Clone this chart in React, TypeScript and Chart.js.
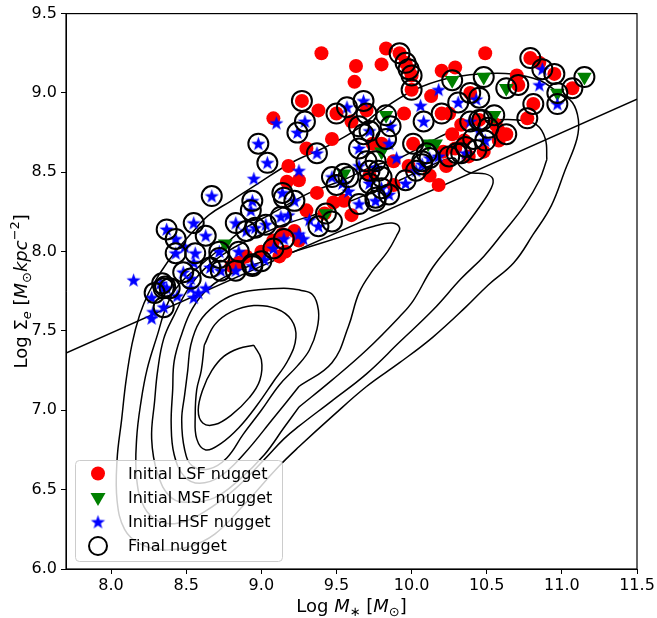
import React, { useEffect, useRef } from "react";
import { Chart, registerables } from "chart.js";

Chart.register(...registerables);

// ---------- data ----------
const xTicks = [8.0, 8.5, 9.0, 9.5, 10.0, 10.5, 11.0, 11.5];
const yTicks = [6.0, 6.5, 7.0, 7.5, 8.0, 8.5, 9.0, 9.5];
const legendLabels = ["Initial LSF nugget", "Initial MSF nugget", "Initial HSF nugget", "Final nugget"];
const xTitleParts: [string, string][] = [["Log ", "n"], ["M", "i"], ["\u2217", "sub"], [" [", "n"], ["M", "i"], ["\u2299", "sub"], ["]", "n"]];
const yTitleParts: [string, string][] = [["Log \u03a3", "n"], ["e", "subi"], [" [", "n"], ["M", "i"], ["\u2299", "sub"], ["kpc", "i"], ["\u22122", "sup"], ["]", "n"]];

const dividingLine = [[7.7, 7.36], [11.5, 8.96]];

const contour1 = [[10.98,9.00],[10.85,9.08],[10.67,9.12],[10.45,9.12],[10.23,9.09],[10.02,9.02],[9.78,8.88],[9.65,8.78],[9.45,8.67],[9.20,8.56],[8.98,8.43],[8.80,8.32],[8.65,8.23],[8.54,8.12],[8.42,7.99],[8.33,7.87],[8.25,7.74],[8.19,7.60],[8.14,7.42],[8.10,7.19],[8.07,6.94],[8.04,6.69],[8.04,6.43],[8.09,6.25],[8.19,6.16],[8.35,6.12],[8.52,6.14],[8.69,6.22],[8.88,6.40],[9.12,6.65],[9.25,6.77],[9.47,6.96],[9.70,7.15],[9.92,7.30],[10.14,7.46],[10.36,7.65],[10.51,7.79],[10.68,7.93],[10.81,8.11],[10.93,8.29],[11.02,8.51],[11.10,8.71],[11.11,8.83],[11.07,8.94],[10.98,9.00]];
const contour2 = [[10.90,8.58],[10.89,8.71],[10.83,8.80],[10.71,8.83],[10.55,8.83],[10.40,8.81],[10.18,8.72],[9.92,8.59],[9.75,8.54],[9.54,8.45],[9.32,8.37],[9.07,8.24],[8.88,8.14],[8.74,8.03],[8.59,7.91],[8.45,7.79],[8.37,7.66],[8.31,7.48],[8.24,7.26],[8.20,7.06],[8.17,6.82],[8.17,6.57],[8.22,6.39],[8.32,6.30],[8.45,6.29],[8.62,6.36],[8.82,6.50],[9.02,6.69],[9.15,6.82],[9.25,6.90],[9.47,7.06],[9.70,7.23],[9.92,7.43],[10.14,7.63],[10.33,7.83],[10.48,7.97],[10.61,8.12],[10.75,8.29],[10.85,8.45],[10.90,8.58]];
const contour3 = [[9.25,7.02],[9.47,7.19],[9.70,7.38],[9.92,7.59],[10.01,7.69],[10.14,7.90],[10.30,8.09],[10.45,8.28],[10.53,8.40],[10.54,8.46],[10.49,8.49],[10.38,8.50],[10.32,8.54],[10.28,8.59],[10.12,8.54],[9.92,8.45],[9.65,8.34],[9.38,8.24],[9.18,8.18],[8.98,8.10],[8.79,8.01],[8.62,7.89],[8.51,7.76],[8.42,7.60],[8.35,7.45],[8.31,7.25],[8.29,7.06],[8.27,6.82],[8.31,6.60],[8.40,6.45],[8.53,6.42],[8.69,6.45],[8.85,6.56],[9.02,6.72],[9.15,6.89],[9.25,7.02]];
const contour4 = [[9.25,7.15],[9.47,7.30],[9.58,7.53],[9.65,7.74],[9.74,7.88],[9.84,8.00],[9.90,8.10],[9.92,8.15],[9.87,8.18],[9.75,8.16],[9.52,8.09],[9.25,8.01],[9.02,7.94],[8.82,7.87],[8.65,7.77],[8.54,7.64],[8.47,7.48],[8.42,7.31],[8.41,7.13],[8.40,6.91],[8.42,6.72],[8.49,6.58],[8.59,6.54],[8.72,6.58],[8.88,6.72],[9.08,6.95],[9.25,7.15]];
const contour5 = [[9.25,7.76],[9.34,7.73],[9.38,7.63],[9.37,7.51],[9.32,7.38],[9.24,7.28],[9.12,7.16],[9.00,7.00],[8.88,6.85],[8.77,6.70],[8.65,6.63],[8.54,6.65],[8.49,6.75],[8.47,6.94],[8.49,7.10],[8.51,7.25],[8.53,7.41],[8.59,7.56],[8.69,7.66],[8.82,7.73],[8.98,7.76],[9.15,7.77],[9.25,7.76]];
const contour6 = [[8.62,7.41],[8.69,7.54],[8.80,7.62],[8.95,7.66],[9.10,7.64],[9.20,7.57],[9.23,7.46],[9.18,7.32],[9.08,7.18],[8.97,7.03],[8.85,6.89],[8.73,6.79],[8.63,6.75],[8.57,6.82],[8.56,6.97],[8.57,7.13],[8.60,7.25],[8.62,7.41]];
const contour7 = [[8.95,7.41],[9.00,7.32],[8.99,7.19],[8.92,7.08],[8.80,6.97],[8.69,6.91],[8.61,6.92],[8.58,7.00],[8.61,7.13],[8.67,7.25],[8.75,7.34],[8.85,7.39],[8.95,7.41]];

const lsfPoints = [[9.40,9.25],[9.83,9.28],[9.80,9.18],[9.63,9.17],[9.62,9.07],[9.92,9.25],[9.96,9.19],[9.98,9.15],[10.00,9.11],[10.00,9.02],[10.20,9.14],[10.29,9.16],[10.49,9.25],[10.79,9.22],[10.85,9.19],[10.95,9.12],[11.07,9.03],[10.70,9.11],[10.71,9.05],[10.81,8.93],[10.77,8.84],[10.13,8.98],[10.39,9.00],[9.95,8.87],[10.20,8.87],[10.45,8.83],[10.63,8.74],[10.01,8.68],[10.25,8.87],[10.27,8.74],[10.29,8.65],[10.33,8.80],[9.27,8.95],[9.38,8.89],[9.50,8.87],[9.60,8.82],[9.70,8.89],[9.47,8.71],[9.30,8.65],[9.74,8.68],[9.08,8.84],[9.18,8.54],[9.25,8.45],[9.17,8.44],[9.37,8.37],[9.48,8.31],[9.55,8.32],[9.30,8.26],[9.16,8.00],[9.80,8.68],[9.88,8.57],[9.42,8.24],[8.90,7.97],[9.00,8.00],[9.08,8.07],[9.22,8.13],[8.85,7.93],[8.80,7.91],[9.12,7.97],[9.25,8.07],[9.60,8.23],[9.72,8.48],[9.88,8.42],[9.98,8.54],[10.12,8.48],[10.23,8.54],[10.18,8.42],[10.35,8.70],[10.38,8.60],[10.21,8.63],[10.48,8.63],[10.58,8.70],[10.56,8.80],[10.58,8.76],[9.14,8.11],[9.07,8.04]];
const msfPoints = [[11.15,9.10],[10.97,9.00],[10.63,9.03],[10.48,9.10],[10.27,9.08],[10.55,8.86],[9.83,8.86],[10.11,8.68],[10.16,8.68],[9.55,8.49],[9.43,8.24],[8.76,8.05],[9.80,8.63]];
const hsfPoints = [[8.67,8.35],[8.37,8.14],[8.55,8.18],[8.43,8.08],[8.63,8.10],[8.43,7.99],[8.56,7.99],[8.55,7.93],[8.72,8.00],[8.83,8.18],[8.94,8.32],[8.93,8.26],[8.90,8.13],[8.96,8.15],[9.03,8.17],[8.48,7.87],[8.53,7.83],[8.53,7.77],[8.35,7.77],[8.66,7.90],[8.73,7.88],[8.83,7.88],[8.94,7.91],[9.08,8.02],[9.13,8.22],[9.22,8.32],[9.25,8.11],[9.28,8.08],[8.15,7.82],[8.35,7.65],[8.28,7.62],[8.27,7.58],[8.58,7.74],[8.63,7.77],[8.44,7.72],[8.49,8.03],[8.98,8.68],[9.04,8.56],[8.95,8.46],[9.10,8.81],[9.24,8.75],[9.29,8.82],[9.57,8.91],[9.37,8.62],[9.25,8.51],[9.14,8.37],[9.18,8.23],[8.85,8.00],[9.02,7.95],[9.15,8.08],[9.38,8.16],[9.68,8.95],[9.72,8.76],[9.65,8.65],[9.86,8.79],[9.85,8.68],[10.06,8.92],[10.08,8.82],[10.18,9.02],[10.31,8.94],[10.43,8.96],[10.39,8.82],[10.87,9.15],[10.85,9.05],[10.97,8.93],[9.47,8.47],[9.54,8.43],[9.65,8.30],[9.76,8.32],[9.85,8.36],[9.76,8.53],[9.90,8.59],[9.96,8.43],[10.03,8.51],[9.32,8.20],[10.12,8.59],[10.49,8.70],[10.36,8.62],[10.45,8.76],[10.07,8.55],[10.18,8.60],[9.58,8.38],[9.80,8.40],[9.72,8.43],[9.65,8.54],[8.27,7.71],[8.55,7.71],[8.33,7.80],[8.37,7.77]];
const finalPoints = [[9.92,9.25],[9.96,9.19],[9.98,9.15],[10.00,9.11],[10.00,9.02],[10.79,9.22],[10.95,9.12],[11.07,9.03],[10.71,9.05],[10.81,8.93],[10.77,8.84],[10.39,9.00],[10.20,8.87],[10.45,8.83],[10.63,8.74],[10.01,8.68],[9.27,8.95],[9.50,8.87],
[11.15,9.10],[10.97,9.00],[10.63,9.03],[10.48,9.10],[10.27,9.08],[10.55,8.86],[9.83,8.86],[9.55,8.49],[9.43,8.24],
[8.67,8.35],[8.37,8.14],[8.55,8.18],[8.43,8.08],[8.63,8.10],[8.43,7.99],[8.56,7.99],[8.72,8.00],[8.83,8.18],[8.94,8.32],[8.90,8.13],[8.96,8.15],[9.03,8.17],[8.48,7.87],[8.53,7.83],[8.35,7.77],[8.66,7.90],[8.73,7.88],[8.83,7.88],[8.94,7.91],[9.08,8.02],[9.13,8.22],[9.22,8.32],[8.35,7.65],[8.98,8.68],[9.04,8.56],[9.24,8.75],[9.29,8.82],[9.57,8.91],[9.37,8.62],[9.14,8.37],[8.85,8.00],[9.15,8.08],[9.38,8.16],[9.68,8.95],[9.72,8.76],[9.65,8.65],[9.86,8.79],[10.08,8.82],[10.31,8.94],[10.39,8.82],[10.87,9.15],[10.97,8.93],[9.47,8.47],[9.65,8.30],[9.76,8.32],[9.85,8.36],[10.07,8.55],
[9.58,8.47],[9.50,8.42],[9.70,8.57],[9.72,8.51],[9.76,8.57],[9.78,8.51],[9.80,8.47],[9.72,8.43],[9.80,8.40],[9.76,8.34],[9.96,8.45],[10.03,8.51],[10.07,8.57],[10.12,8.59],[10.45,8.97],[10.47,8.83],[10.51,8.78],[10.41,8.71],[10.49,8.70],[10.36,8.66],[10.43,8.64],[10.30,8.62],[10.33,8.62],[10.25,8.60],[9.83,8.71],[9.65,8.79],[8.72,7.96],[8.34,7.80],[8.36,7.78],[8.39,7.77],[8.29,7.74],[8.93,8.26],[9.00,7.94],[8.94,7.92],[9.15,8.34],[9.47,8.19],[9.70,8.87],[9.68,8.74],[10.10,8.62]];

// ---------- helpers ----------
const FONT = '"DejaVu Sans"';
const toXY = (arr: number[][]) => arr.map(([x, y]) => ({ x, y }));

function makeStar(r: number, color: string) {
  const c = document.createElement("canvas");
  const s = Math.ceil(r * 2 + 2);
  c.width = s;
  c.height = s;
  const ctx = c.getContext("2d")!;
  ctx.beginPath();
  for (let i = 0; i < 10; i++) {
    const ang = -Math.PI / 2 + (i * Math.PI) / 5;
    const rr = i % 2 === 0 ? r : r * 0.4;
    ctx.lineTo(s / 2 + rr * Math.cos(ang), s / 2 + 0.5 + rr * Math.sin(ang));
  }
  ctx.closePath();
  ctx.fillStyle = color;
  ctx.fill();
  return c;
}

function fontFor(style: string, base: number) {
  const small = Math.round(base * 0.7);
  if (style === "i") return `italic ${base}px ${FONT}`;
  if (style === "sub" || style === "sup") return `${small}px ${FONT}`;
  if (style === "subi") return `italic ${small}px ${FONT}`;
  return `${base}px ${FONT}`;
}

function drawRich(ctx: CanvasRenderingContext2D, parts: [string, string][], cx: number, baseline: number, base: number) {
  let total = 0;
  const widths = parts.map(([t, s]) => {
    ctx.font = fontFor(s, base);
    const w = ctx.measureText(t).width;
    total += w;
    return w;
  });
  let x = cx - total / 2;
  ctx.textAlign = "left";
  ctx.textBaseline = "alphabetic";
  ctx.fillStyle = "#000";
  parts.forEach(([t, s], i) => {
    ctx.font = fontFor(s, base);
    let dy = 0;
    if (s === "sub" || s === "subi") dy = base * 0.22;
    if (s === "sup") dy = -base * 0.42;
    ctx.fillText(t, x, baseline + dy);
    x += widths[i];
  });
}

export default function App() {
  const ref = useRef<HTMLCanvasElement>(null);

  useEffect(() => {
    if (!ref.current) return;
    const star = makeStar(7.5, "#0000ff");

    const contourSets = [contour1, contour2, contour3, contour4, contour5, contour6, contour7].map((c) => ({
      data: toXY(c),
      showLine: true,
      borderColor: "#000",
      borderWidth: 1.5,
      pointRadius: 0,
      tension: 0.4,
      fill: false,
      order: 6,
    }));

    const overlay = {
      id: "overlay",
      afterDatasetsDraw(chart: any) {
        const ctx = chart.ctx as CanvasRenderingContext2D;
        const ca = chart.chartArea;
        // legend
        const left = ca.left + 9;
        const top = ca.bottom - 109;
        const w = 207;
        const h = 101;
        ctx.save();
        ctx.beginPath();
        (ctx as any).roundRect(left + 0.5, top + 0.5, w, h, 4);
        ctx.fillStyle = "rgba(255,255,255,0.8)";
        ctx.fill();
        ctx.strokeStyle = "#cccccc";
        ctx.lineWidth = 1;
        ctx.stroke();
        const mx = left + 23;
        const tx = left + 53;
        const rows = [13.5, 38, 62, 86].map((d) => top + d);
        // red circle
        ctx.beginPath();
        ctx.arc(mx, rows[0], 7, 0, Math.PI * 2);
        ctx.fillStyle = "#ff0000";
        ctx.fill();
        // green triangle
        ctx.beginPath();
        ctx.moveTo(mx - 7.5, rows[1] - 5);
        ctx.lineTo(mx + 7.5, rows[1] - 5);
        ctx.lineTo(mx, rows[1] + 8);
        ctx.closePath();
        ctx.fillStyle = "#008000";
        ctx.fill();
        // blue star
        ctx.drawImage(star, mx - star.width / 2, rows[2] - star.height / 2);
        // black ring
        ctx.beginPath();
        ctx.arc(mx, rows[3], 9, 0, Math.PI * 2);
        ctx.strokeStyle = "#000";
        ctx.lineWidth = 2;
        ctx.stroke();
        ctx.font = `16px ${FONT}`;
        ctx.fillStyle = "#000";
        ctx.textAlign = "left";
        ctx.textBaseline = "middle";
        legendLabels.forEach((t, i) => ctx.fillText(t, tx, rows[i] + 1));
        ctx.restore();
      },
      afterDraw(chart: any) {
        const ctx = chart.ctx as CanvasRenderingContext2D;
        const ca = chart.chartArea;
        ctx.save();
        ctx.strokeStyle = "#000";
        ctx.lineWidth = 1.2;
        ctx.strokeRect(ca.left, ca.top, ca.right - ca.left, ca.bottom - ca.top);
        drawRich(ctx, xTitleParts, (ca.left + ca.right) / 2, 612, 18);
        ctx.translate(27, (ca.top + ca.bottom) / 2);
        ctx.rotate(-Math.PI / 2);
        drawRich(ctx, yTitleParts, 0, 0, 18);
        ctx.restore();
      },
    };

    const tickFont = { family: FONT, size: 16 };
    const chart = new Chart(ref.current, {
      type: "scatter",
      data: {
        datasets: [
          ...contourSets,
          {
            data: toXY(dividingLine),
            showLine: true,
            borderColor: "#000",
            borderWidth: 1.5,
            pointRadius: 0,
            fill: false,
            order: 5,
          },
          {
            data: toXY(lsfPoints),
            pointStyle: "circle",
            pointRadius: 7,
            backgroundColor: "#ff0000",
            borderWidth: 0,
            order: 4,
          },
          {
            data: toXY(msfPoints),
            pointStyle: "triangle",
            rotation: 180,
            pointRadius: 8.5,
            backgroundColor: "#008000",
            borderWidth: 0,
            order: 3,
          },
          {
            data: toXY(hsfPoints),
            pointStyle: star,
            pointRadius: 7.5,
            backgroundColor: "#0000ff",
            borderWidth: 0,
            order: 2,
          },
          {
            data: toXY(finalPoints),
            pointStyle: "circle",
            pointRadius: 10,
            backgroundColor: "rgba(0,0,0,0)",
            borderColor: "#000",
            borderWidth: 2,
            order: 1,
          },
        ] as any,
      },
      options: {
        animation: false,
        responsive: false,
        events: [],
        layout: { padding: { top: 13, right: 20, left: 0, bottom: 0 } },
        plugins: { legend: { display: false }, tooltip: { enabled: false } },
        scales: {
          x: {
            type: "linear",
            min: 7.7,
            max: 11.5,
            afterBuildTicks: (s: any) => {
              s.ticks = xTicks.map((v) => ({ value: v }));
            },
            afterFit: (s: any) => {
              s.height = 49;
            },
            ticks: {
              font: tickFont,
              color: "#000",
              padding: 2,
              maxRotation: 0,
              autoSkip: false,
              callback: (v: any) => Number(v).toFixed(1),
            },
            grid: { drawOnChartArea: false, drawTicks: true, tickLength: 5, color: "#000" },
            border: { display: true, color: "#000", width: 1 },
          },
          y: {
            type: "linear",
            min: 6.0,
            max: 9.5,
            afterBuildTicks: (s: any) => {
              s.ticks = yTicks.map((v) => ({ value: v }));
            },
            afterFit: (s: any) => {
              s.width = 66;
            },
            ticks: {
              font: tickFont,
              color: "#000",
              padding: 4,
              autoSkip: false,
              callback: (v: any) => Number(v).toFixed(1),
            },
            grid: { drawOnChartArea: false, drawTicks: true, tickLength: 5, color: "#000" },
            border: { display: true, color: "#000", width: 1 },
          },
        },
      } as any,
      plugins: [overlay],
    });
    return () => chart.destroy();
  }, []);

  return (
    <div style={{ position: "fixed", left: 0, top: 0, width: 657, height: 618, background: "#fff" }}>
      <canvas ref={ref} width={657} height={618} style={{ display: "block" }} />
    </div>
  );
}
